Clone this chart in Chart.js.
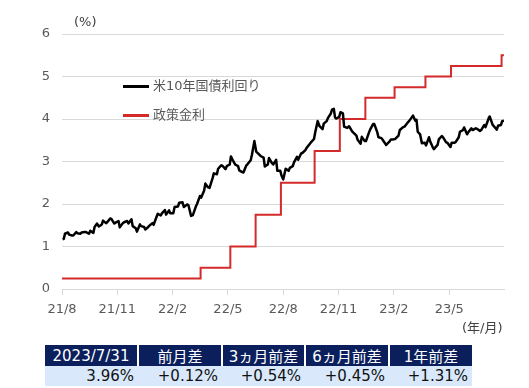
<!DOCTYPE html>
<html>
<head>
<meta charset="utf-8">
<script src="https://cdn.jsdelivr.net/npm/chart.js@4/dist/chart.umd.min.js"></script>
<style>
  body { margin: 0; background: #fff; font-family: "DejaVu Sans", "Noto Sans CJK JP", sans-serif; }
  #wrap { position: relative; width: 529px; height: 388px; }
  #chart { position: absolute; left: 0; top: 2px; }
  .note { position: absolute; font-size: 13px; color: #404040; }
  .leg { position: absolute; left: 123px; font-size: 13px; color: #595959; }
  .leg span { display: inline-block; width: 26px; height: 3px; vertical-align: middle; margin-right: 4px; }
  table { position: absolute; left: 45px; top: 345px; border-collapse: collapse; font-size: 15px; }
  th { background: #0b1f5c; color: #fff; font-weight: normal; height: 21px; padding: 0; text-align: center; border-left: 2px solid #fff; }
  th:first-child { border-left: none; }
  td { background: #d9e9fb; color: #111; height: 20px; padding: 0 4px 0 0; text-align: right; }
</style>
</head>
<body>
<div id="wrap">
  <canvas id="chart" width="529" height="330"></canvas>
  <div class="note" style="left:74px; top:14px;">(%)</div>
  <div class="note" style="left:462px; top:317px;">(年/月)</div>
  <div class="leg" style="top:75px;"><span style="background:#000"></span>米10年国債利回り</div>
  <div class="leg" style="top:104px;"><span style="background:#d42a2a"></span>政策金利</div>
  <table>
    <tr><th style="width:92px">2023/7/31</th><th style="width:82px">前月差</th><th style="width:81px">3ヵ月前差</th><th style="width:82px">6ヵ月前差</th><th style="width:82px">1年前差</th></tr>
    <tr><td>3.96%</td><td>+0.12%</td><td>+0.54%</td><td>+0.45%</td><td>+1.31%</td></tr>
  </table>
</div>
<script>
// x tick labels (every 3 months from 2021/8)
const tickLabels = ['21/8', '21/11', '22/2', '22/5', '22/8', '22/11', '23/2', '23/5'];

// US 10y yield (%)
const yieldDates = [
  '2021-08-02','2021-08-04','2021-08-06','2021-08-11','2021-08-13','2021-08-18','2021-08-20','2021-08-25','2021-08-27',
  '2021-09-01','2021-09-03','2021-09-08','2021-09-10','2021-09-15','2021-09-17','2021-09-22','2021-09-24','2021-09-28','2021-10-01',
  '2021-10-06','2021-10-08','2021-10-13','2021-10-15','2021-10-20','2021-10-22','2021-10-27','2021-10-29',
  '2021-11-03','2021-11-05','2021-11-10','2021-11-12','2021-11-17','2021-11-19','2021-11-24','2021-11-26',
  '2021-12-01','2021-12-03','2021-12-08','2021-12-10','2021-12-15','2021-12-17','2021-12-22','2021-12-24','2021-12-29','2021-12-31',
  '2022-01-05','2022-01-07','2022-01-12','2022-01-14','2022-01-19','2022-01-21','2022-01-26','2022-01-28',
  '2022-02-02','2022-02-04','2022-02-09','2022-02-11','2022-02-16','2022-02-18','2022-02-23','2022-02-25',
  '2022-03-01','2022-03-04','2022-03-09','2022-03-11','2022-03-16','2022-03-18','2022-03-23','2022-03-25','2022-03-29',
  '2022-04-01','2022-04-06','2022-04-08','2022-04-13','2022-04-15','2022-04-20','2022-04-22','2022-04-27','2022-04-29',
  '2022-05-04','2022-05-06','2022-05-09','2022-05-13','2022-05-18','2022-05-20','2022-05-25','2022-05-27',
  '2022-06-01','2022-06-03','2022-06-08','2022-06-10','2022-06-14','2022-06-17','2022-06-22','2022-06-24','2022-06-29',
  '2022-07-01','2022-07-06','2022-07-08','2022-07-13','2022-07-15','2022-07-20','2022-07-22','2022-07-27','2022-07-29',
  '2022-08-01','2022-08-05','2022-08-10','2022-08-12','2022-08-17','2022-08-19','2022-08-24','2022-08-26','2022-08-31',
  '2022-09-02','2022-09-07','2022-09-09','2022-09-14','2022-09-16','2022-09-21','2022-09-23','2022-09-27','2022-09-30',
  '2022-10-05','2022-10-07','2022-10-12','2022-10-14','2022-10-19','2022-10-21','2022-10-24','2022-10-26','2022-10-28',
  '2022-11-02','2022-11-04','2022-11-08','2022-11-10','2022-11-15','2022-11-18','2022-11-23','2022-11-25','2022-11-30',
  '2022-12-02','2022-12-07','2022-12-09','2022-12-14','2022-12-16','2022-12-21','2022-12-23','2022-12-28','2022-12-30',
  '2023-01-04','2023-01-06','2023-01-11','2023-01-13','2023-01-19','2023-01-24','2023-01-27','2023-01-31',
  '2023-02-03','2023-02-08','2023-02-10','2023-02-15','2023-02-17','2023-02-22','2023-02-24',
  '2023-03-02','2023-03-06','2023-03-08','2023-03-10','2023-03-14','2023-03-17','2023-03-22','2023-03-24','2023-03-29','2023-03-31',
  '2023-04-04','2023-04-06','2023-04-12','2023-04-14','2023-04-19','2023-04-21','2023-04-26','2023-04-28',
  '2023-05-03','2023-05-05','2023-05-10','2023-05-12','2023-05-17','2023-05-19','2023-05-24','2023-05-26','2023-05-31',
  '2023-06-02','2023-06-07','2023-06-09','2023-06-14','2023-06-16','2023-06-21','2023-06-23','2023-06-28','2023-06-30',
  '2023-07-06','2023-07-07','2023-07-12','2023-07-14','2023-07-19','2023-07-21','2023-07-26','2023-07-28','2023-07-31'
];
const yieldValues = [
  1.17, 1.18, 1.30, 1.33, 1.28, 1.26, 1.26, 1.34, 1.31,
  1.30, 1.33, 1.34, 1.34, 1.30, 1.37, 1.32, 1.46, 1.54, 1.47,
  1.52, 1.61, 1.55, 1.57, 1.66, 1.65, 1.54, 1.56,
  1.60, 1.45, 1.55, 1.57, 1.60, 1.54, 1.64, 1.48,
  1.43, 1.35, 1.52, 1.48, 1.46, 1.40, 1.46, 1.49, 1.55, 1.51,
  1.70, 1.77, 1.73, 1.78, 1.86, 1.75, 1.85, 1.78,
  1.78, 1.93, 1.94, 2.03, 2.04, 1.93, 1.99, 1.97,
  1.72, 1.74, 1.94, 2.00, 2.19, 2.15, 2.32, 2.48, 2.40,
  2.38, 2.61, 2.72, 2.70, 2.83, 2.91, 2.90, 2.82, 2.89,
  2.93, 3.12, 3.03, 2.93, 2.89, 2.79, 2.75, 2.74,
  2.91, 2.94, 3.03, 3.16, 3.48, 3.23, 3.16, 3.13, 3.09,
  2.88, 2.93, 3.08, 2.96, 2.93, 3.04, 2.78, 2.78, 2.67,
  2.58, 2.83, 2.78, 2.85, 2.89, 2.98, 3.11, 3.04, 3.19,
  3.20, 3.27, 3.32, 3.41, 3.45, 3.53, 3.69, 3.95, 3.83,
  3.76, 3.89, 3.95, 4.02, 4.13, 4.22, 4.24, 4.04, 4.01,
  4.05, 4.16, 4.13, 3.82, 3.79, 3.83, 3.71, 3.68, 3.61,
  3.51, 3.42, 3.58, 3.48, 3.48, 3.68, 3.75, 3.88, 3.88,
  3.69, 3.57, 3.55, 3.51, 3.39, 3.46, 3.52, 3.52,
  3.53, 3.61, 3.74, 3.81, 3.82, 3.92, 3.95,
  4.08, 3.96, 3.98, 3.70, 3.64, 3.43, 3.44, 3.38, 3.57, 3.47,
  3.34, 3.29, 3.39, 3.52, 3.60, 3.57, 3.45, 3.44,
  3.34, 3.44, 3.44, 3.46, 3.57, 3.70, 3.74, 3.80, 3.64,
  3.69, 3.78, 3.74, 3.78, 3.77, 3.72, 3.74, 3.86, 3.81,
  4.04, 4.06, 3.86, 3.83, 3.75, 3.84, 3.86, 3.95, 3.96
];

// policy rate (upper bound, %), value from each date
const policyDates = ['2021-08-01','2022-03-17','2022-05-05','2022-06-16','2022-07-28','2022-09-22','2022-11-03','2022-12-15','2023-02-02','2023-03-23','2023-05-04','2023-07-27','2023-07-31'];
const policyValues = [0.25, 0.5, 1.0, 1.75, 2.5, 3.25, 4.0, 4.5, 4.75, 5.0, 5.25, 5.5, 5.5];

// date -> months since 2021/8/1
function toX(s) {
  const [y, m, d] = s.split('-').map(Number);
  const dim = new Date(y, m, 0).getDate();
  return (y - 2021) * 12 + (m - 8) + (d - 1) / dim;
}

const tickFont = { family: '"DejaVu Sans", "Noto Sans CJK JP", sans-serif', size: 13 };

new Chart(document.getElementById('chart'), {
  type: 'line',
  data: {
    datasets: [
      {
        label: '米10年国債利回り',
        data: yieldDates.map((d, i) => ({ x: toX(d), y: yieldValues[i] })),
        borderColor: '#000',
        borderWidth: 2.5,
        pointRadius: 0,
        tension: 0,
        borderJoinStyle: 'round'
      },
      {
        label: '政策金利',
        data: policyDates.map((d, i) => ({ x: toX(d), y: policyValues[i] })),
        borderColor: '#d42a2a',
        borderWidth: 2,
        pointRadius: 0,
        stepped: 'before'
      }
    ]
  },
  options: {
    responsive: false,
    animation: false,
    layout: { padding: { left: 0, right: 25, top: 32, bottom: 0 } },
    plugins: { legend: { display: false }, tooltip: { enabled: false } },
    scales: {
      x: {
        type: 'linear',
        min: 0,
        max: 23.97,
        afterBuildTicks: scale => { scale.ticks = tickLabels.map((_, i) => ({ value: i * 3 })); },
        afterFit: scale => { scale.height = 43; },
        ticks: {
          color: '#595959',
          font: tickFont,
          padding: 7,
          maxRotation: 0,
          autoSkip: false,
          callback: v => tickLabels[Math.round(v / 3)]
        },
        grid: { drawOnChartArea: false, drawTicks: true, tickLength: 6, color: '#d9d9d9' },
        border: { color: '#d9d9d9' }
      },
      y: {
        min: 0,
        max: 6,
        afterFit: scale => { scale.width = 62; },
        ticks: { stepSize: 1, color: '#595959', font: tickFont, padding: 12 },
        grid: { color: '#d9d9d9', drawTicks: false },
        border: { display: false }
      }
    }
  }
});
</script>
</body>
</html>
